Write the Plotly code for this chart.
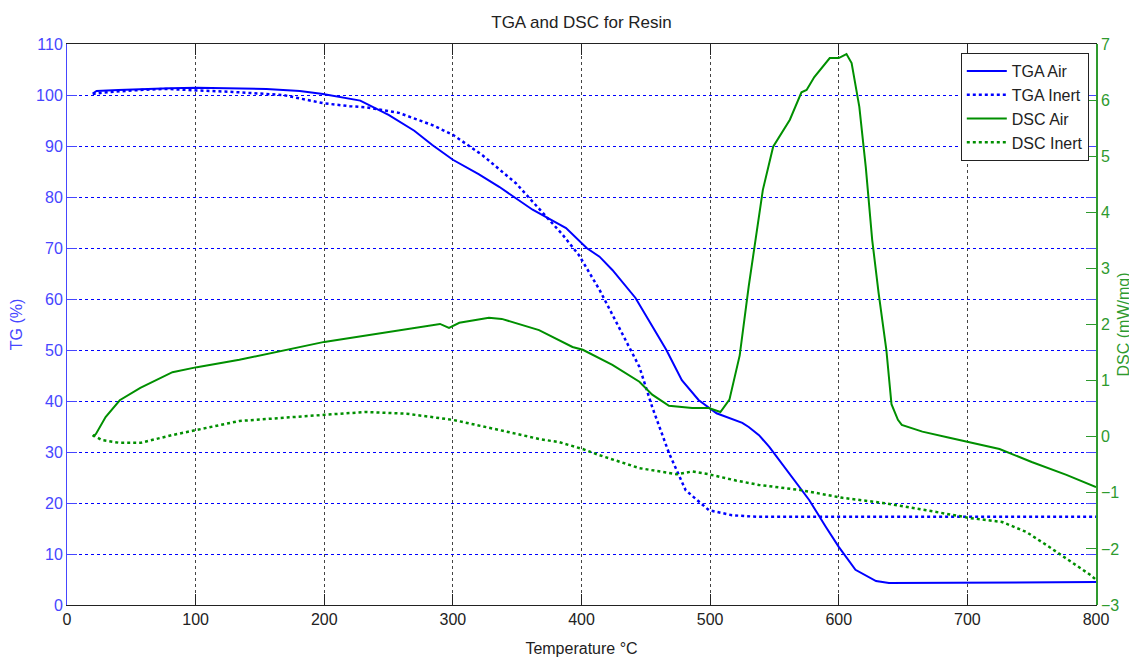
import plotly.graph_objects as go

# ---- data ----
tga_air_T = [20, 23, 40, 60, 80, 101, 130, 155, 181, 199, 228, 250, 270, 284, 300, 320, 336, 362, 388,
             404, 414, 424, 442, 452, 466, 478, 491, 505, 525, 530, 538, 546, 561, 577, 590, 600, 613,
             629, 639, 700, 760, 800]
tga_air = [100.3, 100.8, 101.0, 101.2, 101.3, 101.4, 101.3, 101.2, 100.8, 100.2, 98.9, 96.1, 93.0, 90.2,
           87.3, 84.5, 82.0, 77.5, 73.9, 70.0, 68.3, 65.7, 60.2, 55.9, 50.0, 44.1, 40.2, 37.6, 35.7, 34.9,
           33.3, 31.0, 25.9, 20.6, 15.3, 11.4, 6.9, 4.7, 4.3, 4.4, 4.4, 4.5]

tga_inert_T = [20, 26, 50, 77, 101, 129, 168, 199, 220, 232, 258, 284, 300, 323, 349, 367, 385, 398, 414,
               429, 445, 455, 468, 481, 499, 517, 536, 600, 700, 800]
tga_inert = [100.2, 100.4, 100.9, 101.2, 100.9, 100.6, 100.0, 98.4, 97.8, 97.6, 96.5, 94.1, 92.2, 88.2,
             82.7, 77.8, 72.7, 68.6, 61.8, 54.5, 46.7, 38.8, 29.8, 22.5, 18.6, 17.6, 17.3, 17.3, 17.3, 17.3]

dsc_air_T = [20, 22.5, 30, 41, 57, 82, 101, 134, 200, 264, 290, 297, 305, 328, 338, 367, 393, 401, 424,
             445, 455, 468, 486, 499, 508, 515, 523, 530, 536, 541, 549, 562, 571, 575, 581, 593, 600,
             606, 610, 616, 621, 626, 631, 637, 641, 646, 649, 665, 686, 700, 725, 750, 777, 800]
dsc_air = [0.0, 0.05, 0.35, 0.65, 0.87, 1.15, 1.24, 1.37, 1.69, 1.92, 2.01, 1.94, 2.03, 2.12, 2.10, 1.90,
           1.60, 1.55, 1.28, 0.98, 0.75, 0.55, 0.51, 0.51, 0.44, 0.66, 1.45, 2.68, 3.63, 4.40, 5.17, 5.65,
           6.14, 6.18, 6.41, 6.75, 6.75, 6.82, 6.66, 5.88, 4.81, 3.51, 2.56, 1.55, 0.58, 0.30, 0.21, 0.09,
           -0.02, -0.09, -0.22, -0.45, -0.68, -0.90]

dsc_inert_T = [20, 27, 41, 57, 82, 101, 134, 200, 232, 264, 300, 336, 367, 383, 401, 414, 445, 474, 486,
               499, 520, 538, 570, 603, 634, 668, 702, 727, 746, 764, 779, 796, 800]
dsc_inert = [0.03, -0.06, -0.11, -0.11, 0.03, 0.12, 0.28, 0.39, 0.44, 0.41, 0.30, 0.12, -0.04, -0.10,
             -0.22, -0.33, -0.56, -0.67, -0.62, -0.67, -0.78, -0.86, -0.95, -1.09, -1.18, -1.31, -1.45,
             -1.52, -1.70, -1.97, -2.20, -2.47, -2.55]

x_ticks = [0, 100, 200, 300, 400, 500, 600, 700, 800]
tg_ticks = [0, 10, 20, 30, 40, 50, 60, 70, 80, 90, 100, 110]
dsc_ticks = [-3, -2, -1, 0, 1, 2, 3, 4, 5, 6, 7]

BLUE = "#0000ff"
GREEN = "#008f00"
AX_BLUE = "#4646ff"
AX_GREEN = "#2e9a2e"
FONT = "Liberation Sans, Arial, sans-serif"

fig = go.Figure()
fig.add_trace(go.Scatter(x=tga_air_T, y=tga_air, name="TGA Air", mode="lines",
                         line=dict(color=BLUE, width=2), yaxis="y"))
fig.add_trace(go.Scatter(x=tga_inert_T, y=tga_inert, name="TGA Inert", mode="lines",
                         line=dict(color=BLUE, width=2.5, dash="dot"), yaxis="y"))
fig.add_trace(go.Scatter(x=dsc_air_T, y=dsc_air, name="DSC Air", mode="lines",
                         line=dict(color=GREEN, width=2), yaxis="y2"))
fig.add_trace(go.Scatter(x=dsc_inert_T, y=dsc_inert, name="DSC Inert", mode="lines",
                         line=dict(color=GREEN, width=2.5, dash="dot"), yaxis="y2"))

fig.update_layout(
    width=1129, height=653,
    margin=dict(l=59, r=41, t=36, b=56, autoexpand=False),
    paper_bgcolor="white", plot_bgcolor="white",
    font=dict(family=FONT, size=16, color="#222222"),
    title=dict(text="TGA and DSC for Resin", x=0.5, xanchor="center", xref="paper",
               y=1 - 14 / 653, yref="container", yanchor="middle",
               font=dict(family=FONT, size=17, color="#222222")),
    xaxis=dict(range=[0, 800], tickvals=x_ticks, showgrid=True, gridcolor="#444444", griddash="dot",
               gridwidth=1, zeroline=False, showline=True, linecolor="#222222", linewidth=1,
               mirror="ticks", ticks="inside", ticklen=11, tickcolor="#222222", automargin=False,
               tickfont=dict(size=16, color="#222222"),
               title=dict(text="Temperature °C", font=dict(size=16, color="#222222"), standoff=15)),
    yaxis=dict(range=[0, 110], tickvals=tg_ticks, showgrid=True, gridcolor=BLUE, griddash="dot",
               gridwidth=1, zeroline=False, showline=True, linecolor=AX_BLUE, linewidth=1,
               mirror="ticks", ticks="inside", ticklen=10, tickcolor=AX_BLUE, automargin=False,
               tickfont=dict(size=16, color=AX_BLUE),
               title=dict(text="TG (%)", font=dict(size=16, color=AX_BLUE), standoff=10)),
    yaxis2=dict(range=[-3, 7], tickvals=dsc_ticks, overlaying="y", side="right", showgrid=False,
                zeroline=False, showline=True, linecolor=AX_GREEN, linewidth=1.5, automargin=False,
                ticks="inside", ticklen=10, tickcolor=AX_GREEN,
                tickfont=dict(size=16, color=AX_GREEN),
                title=dict(text="DSC (mW/mg)", font=dict(size=16, color=AX_GREEN), standoff=0)),
    legend=dict(x=0.993, xanchor="right", y=0.984, yanchor="top", bgcolor="white",
                bordercolor="#222222", borderwidth=1, font=dict(size=16, color="#222222"),
                itemwidth=40, tracegroupgap=0),
    showlegend=True,
)

fig.write_html("out.html")
